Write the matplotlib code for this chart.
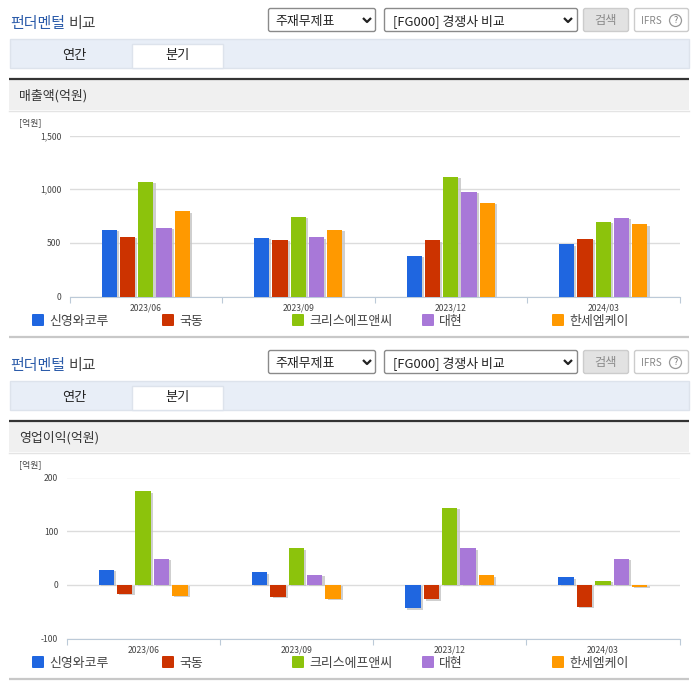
import matplotlib
matplotlib.use('Agg')
import matplotlib.pyplot as plt
import matplotlib.patheffects as pe
from matplotlib.patches import Rectangle, FancyBboxPatch, Circle
import numpy as np

plt.rcParams['font.family'] = ['Noto Sans CJK KR', 'DejaVu Sans']

W, H = 696, 684

periods = ['2023/06', '2023/09', '2023/12', '2024/03']
companies = ['신영와코루', '국동', '크리스에프앤씨', '대현', '한세엠케이']
colors = ['#1f66e0', '#cc3300', '#8cc30c', '#a878d8', '#ff9900']

# 매출액(억원)
sales_q1 = [622, 558, 1070, 642, 792]
sales_q2 = [548, 528, 745, 550, 622]
sales_q3 = [380, 522, 1118, 978, 875]
sales_q4 = [485, 538, 698, 735, 672]
sales = [sales_q1, sales_q2, sales_q3, sales_q4]

# 영업이익(억원)
profit_q1 = [28, -17, 174, 49, -21]
profit_q2 = [23, -22, 68, 19, -26]
profit_q3 = [-44, -27, 144, 68, 18]
profit_q4 = [14, -41, 7, 48, -4]
profit = [profit_q1, profit_q2, profit_q3, profit_q4]

sales_ticks = [0, 500, 1000, 1500]
sales_labels = ['0', '500', '1,000', '1,500']
profit_ticks = [-100, 0, 100, 200]
profit_labels = ['-100', '0', '100', '200']


def rbox(bg, x0, y0, x1, y1, fc, ec):
    bg.add_patch(FancyBboxPatch((x0 + 2, y0 + 2), x1 - x0 - 4, y1 - y0 - 4,
                                boxstyle='round,pad=2', fc=fc, ec=ec, lw=1))


def chevron(bg, x, y):
    bg.plot([x - 4, x, x + 4], [y - 2, y + 2, y - 2], color='#222222', lw=1.6,
            solid_capstyle='butt')


def draw_panel(bg, off, title):
    # header
    bg.text(10, 24 + off, '펀더멘털', fontsize=10.8, color='#2c5caa', va='center', ha='left')
    bg.text(68, 24 + off, '비교', fontsize=10.8, color='#444444', va='center', ha='left')

    rbox(bg, 268.5, 8.5 + off, 375.5, 31.5 + off, 'white', '#8a8a8a')
    bg.text(275, 21 + off, '주재무제표', fontsize=9.3, color='#222222', va='center')
    chevron(bg, 367, 20 + off)
    rbox(bg, 384.5, 8.5 + off, 577.5, 31.5 + off, 'white', '#8a8a8a')
    bg.text(393, 21 + off, '[FG000] 경쟁사 비교', fontsize=9.3, color='#222222', va='center')
    chevron(bg, 568, 20 + off)
    rbox(bg, 583.5, 8.5 + off, 628.5, 31.5 + off, '#e2e2e2', '#cccccc')
    bg.text(606, 20.5 + off, '검색', fontsize=8.8, color='#8a8a8a', va='center', ha='center')
    rbox(bg, 634.5, 8.5 + off, 688.5, 31.5 + off, 'white', '#cccccc')
    bg.text(641, 20.5 + off, 'IFRS', fontsize=7.2, color='#888888', va='center')
    bg.add_patch(Circle((675.5, 20.5 + off), 6, fc='white', ec='#999999', lw=0.9))
    bg.text(675.5, 20.5 + off, '?', fontsize=6.5, color='#777777', va='center', ha='center')

    # tabs
    bg.add_patch(Rectangle((9.5, 38.5 + off), 679, 29, fc='#e8eef7', ec='#dde3ec', lw=1))
    bg.add_patch(Rectangle((131.5, 43.5 + off), 91, 24, fc='white', ec='#dde3ec', lw=1))
    bg.text(74, 55.5 + off, '연간', fontsize=9.5, color='#222222', va='center', ha='center')
    bg.text(177, 55.5 + off, '분기', fontsize=9.5, color='#222222', va='center', ha='center')

    # title band
    bg.add_patch(Rectangle((9, 80 + off), 680, 30, fc='#f0f0f0', ec='none'))
    bg.plot([9, 689], [79 + off, 79 + off], color='#333333', lw=1.6, solid_capstyle='butt')
    bg.plot([9, 689], [110.5 + off, 110.5 + off], color='#e4e4e4', lw=1)
    bg.text(19, 96 + off, title, fontsize=9.3, color='#333333', va='center')
    bg.text(19, 122.5 + off, '[억원]', fontsize=6.4, color='#444444', va='center')

    # legend
    for i, name in enumerate(companies):
        lx = 32 + 130 * i
        bg.add_patch(FancyBboxPatch((lx + 1, 315 + off), 10, 10, boxstyle='round,pad=1',
                                    fc=colors[i], ec='none'))
        bg.text(lx + 17, 321 + off, name, fontsize=9.3, color='#444444', va='center')

    bg.plot([9, 689], [336.5 + off, 336.5 + off], color='#c8c8c8', lw=1.6,
            solid_capstyle='butt')


def draw_chart(fig, x0, x1, y_top, y_bot, data, ticks, tick_labels, ymin, ymax):
    ax = fig.add_axes([x0 / W, 1 - y_bot / H, (x1 - x0) / W, (y_bot - y_top) / H])
    ax.patch.set_alpha(0)
    ax.set_xlim(0, len(periods))
    ax.set_ylim(ymin, ymax)
    for s in ax.spines.values():
        s.set_visible(False)
    ax.spines['bottom'].set_visible(True)
    ax.spines['bottom'].set_color('#bccad8')
    ax.set_yticks(ticks)
    ax.set_yticklabels(tick_labels, fontsize=6.2, color='#444444')
    ax.tick_params(axis='y', length=0, pad=6)
    ax.set_xticks(np.arange(len(periods) + 1))
    ax.set_xticklabels([])
    ax.set_xticks(np.arange(len(periods)) + 0.5, minor=True)
    ax.set_xticklabels(periods, minor=True, fontsize=6.2, color='#444444')
    ax.tick_params(axis='x', which='major', length=4, color='#bccad8')
    ax.tick_params(axis='x', which='minor', length=0, pad=5)
    ax.grid(axis='y', color='#dcdcdc', lw=1)
    ax.set_axisbelow(True)

    shadow = [pe.SimplePatchShadow(offset=(1.6, -1.0), shadow_rgbFace='#c4c4c4', alpha=0.8),
              pe.Normal()]
    for g, vals in enumerate(data):
        for i, v in enumerate(vals):
            ax.bar(g + 0.5 + (i - 2) * 0.12, v, width=0.1, color=colors[i],
                   path_effects=shadow, zorder=3)
    return ax


fig = plt.figure(figsize=(W / 100, H / 100), dpi=100, facecolor='white')
bg = fig.add_axes([0, 0, 1, 1])
bg.set_xlim(0, W)
bg.set_ylim(H, 0)
bg.axis('off')

draw_panel(bg, 0, '매출액(억원)')
draw_panel(bg, 342, '영업이익(억원)')

draw_chart(fig, 69.5, 679.5, 135.5, 296.5, sales, sales_ticks, sales_labels, 0, 1500)
draw_chart(fig, 66.5, 679.5, 477.5, 638.5, profit, profit_ticks, profit_labels, -100, 200)

fig.savefig('out.png', dpi=100)
